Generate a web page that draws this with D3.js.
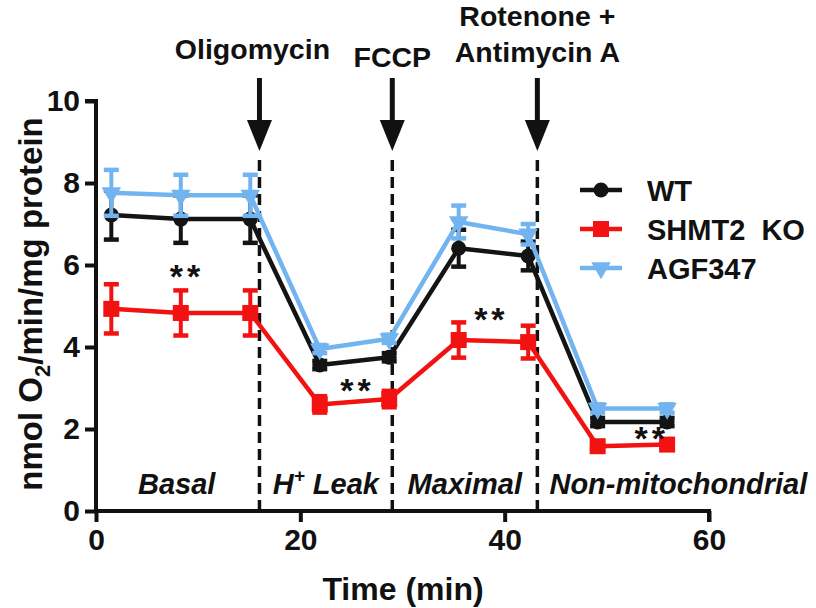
<!DOCTYPE html>
<html><head><meta charset="utf-8">
<script src="https://cdn.jsdelivr.net/npm/d3@7"></script>
<style>
html,body{margin:0;padding:0;background:#fff;}
svg text{font-family:"Liberation Sans",Arial,Helvetica,sans-serif;font-weight:bold;fill:#111;}
</style></head>
<body><svg id="c" width="816" height="608"></svg>
<script>
const times = [1.5, 8.3, 15.1, 21.9, 28.7, 35.5, 42.3, 49.1, 55.9];
const wtValues = [7.22, 7.12, 7.12, 3.56, 3.75, 6.41, 6.22, 2.17, 2.17];
const wtErrors = [0.6, 0.58, 0.58, 0.1, 0.1, 0.45, 0.35, 0.1, 0.1];
const koValues = [4.93, 4.83, 4.83, 2.6, 2.73, 4.17, 4.12, 1.58, 1.62];
const koErrors = [0.6, 0.55, 0.55, 0.2, 0.2, 0.43, 0.4, 0.08, 0.08];
const agValues = [7.76, 7.7, 7.7, 3.95, 4.2, 7.05, 6.75, 2.5, 2.5];
const agErrors = [0.56, 0.5, 0.5, 0.1, 0.1, 0.4, 0.25, 0.1, 0.1];
const seriesNames = ["WT", "SHMT2  KO", "AGF347"];
const xTicks = [0, 20, 40, 60];
const yTicks = [0, 2, 4, 6, 8, 10];
const injectionTimes = [16, 29, 43.2];
const injectionLabels = [["Oligomycin"], ["FCCP"], ["Rotenone +", "Antimycin A"]];
const phaseLabels = ["Basal", "H+ Leak", "Maximal", "Non-mitochondrial"];
const phaseCenters = [7.9, 22.5, 36.1, 57.0];
const starTimes = [8.9, 25.6, 38.7, 54.4];
const starValues = [5.45, 2.65, 4.38, 1.5];

const svg = d3.select("#c");
const x = d3.scaleLinear().domain([0, 60]).range([96, 709]);
const y = d3.scaleLinear().domain([0, 10]).range([511, 101]);

const colors = ["#141414", "#f21212", "#72b4f0"];
const series = [
  {name: seriesNames[0], v: wtValues, e: wtErrors, c: colors[0], sym: "circle"},
  {name: seriesNames[1], v: koValues, e: koErrors, c: colors[1], sym: "square"},
  {name: seriesNames[2], v: agValues, e: agErrors, c: colors[2], sym: "tri"}
];

// dashed injection lines
svg.selectAll("line.inj").data(injectionTimes).join("line")
  .attr("x1", d => x(d)).attr("x2", d => x(d))
  .attr("y1", 160).attr("y2", y(0))
  .attr("stroke", "#111").attr("stroke-width", 3.5)
  .attr("stroke-dasharray", "11,6");

// arrows
injectionTimes.forEach(t => {
  const cx = x(t);
  svg.append("line").attr("x1", cx).attr("x2", cx).attr("y1", 78).attr("y2", 124)
    .attr("stroke", "#111").attr("stroke-width", 5);
  svg.append("path").attr("d", `M${cx-12.5},120 L${cx+12.5},120 L${cx},151 Z`).attr("fill", "#111");
});

// injection labels
injectionLabels.forEach((lines, i) => {
  const cx = x(injectionTimes[i]);
  const baselines = lines.length === 2 ? [26, 62] : (i === 0 ? [59] : [67]);
  lines.forEach((l, j) => {
    svg.append("text").attr("x", cx + (i === 0 ? -7 : 0)).attr("y", baselines[j])
      .attr("text-anchor", "middle").attr("font-size", 28.5).text(l);
  });
});

// axes
const yAxis = d3.axisLeft(y).tickValues(yTicks).tickSize(11).tickPadding(5);
const gy = svg.append("g").attr("transform", `translate(${x(0)},0)`).call(yAxis);
gy.select(".domain").attr("stroke", "#111").attr("stroke-width", 4).attr("d", `M-11,${y(10)}H0V${y(0)}`);
gy.selectAll(".tick line").attr("stroke", "#111").attr("stroke-width", 4);
gy.selectAll(".tick text").attr("font-size", 30).attr("font-family", "Liberation Sans, Arial").attr("font-weight", "bold").attr("fill", "#111");

const xAxis = d3.axisBottom(x).tickValues(xTicks).tickSize(11).tickPadding(7);
const gx = svg.append("g").attr("transform", `translate(0,${y(0)})`).call(xAxis);
gx.select(".domain").attr("stroke", "#111").attr("stroke-width", 4).attr("d", `M${x(0)},0H${x(60)}V11`);
gx.selectAll(".tick line").attr("stroke", "#111").attr("stroke-width", 4);
gx.selectAll(".tick text").attr("font-size", 30).attr("font-family", "Liberation Sans, Arial").attr("font-weight", "bold").attr("fill", "#111");

// axis titles
svg.append("text").attr("x", 403).attr("y", 600).attr("text-anchor", "middle")
  .attr("font-size", 32).text("Time (min)");
const yl = svg.append("text").attr("transform", `translate(42,304) rotate(-90)`)
  .attr("text-anchor", "middle").attr("font-size", 33);
yl.append("tspan").text("nmol O");
yl.append("tspan").attr("font-size", 22).attr("dy", 8).text("2");
yl.append("tspan").attr("dy", -8).text("/min/mg protein");

// phase labels
phaseLabels.forEach((p, i) => {
  const t = svg.append("text").attr("x", x(phaseCenters[i])).attr("y", 494)
    .attr("text-anchor", "middle").attr("font-size", 29).attr("font-style", "italic");
  if (p.startsWith("H+")) {
    t.append("tspan").text("H");
    t.append("tspan").attr("font-size", 19).attr("dy", -12).text("+");
    t.append("tspan").attr("dy", 12).text(" Leak");
  } else t.text(p);
});

// series
const line = d3.line().x((d, i) => x(times[i])).y(d => y(d));
function marker(g, s, cx, cy) {
  if (s.sym === "circle") g.append("circle").attr("cx", cx).attr("cy", cy).attr("r", 7.5).attr("fill", s.c);
  else if (s.sym === "square") g.append("rect").attr("x", cx - 8).attr("y", cy - 8)
    .attr("width", 16).attr("height", 16).attr("fill", s.c);
  else g.append("path").attr("d", d3.symbol(d3.symbolTriangle, 165)())
    .attr("transform", `translate(${cx},${cy}) rotate(180)`).attr("fill", s.c);
}
series.forEach(s => {
  const g = svg.append("g");
  g.append("path").datum(s.v).attr("d", line).attr("fill", "none")
    .attr("stroke", s.c).attr("stroke-width", 4.5).attr("stroke-linejoin", "round");
  s.v.forEach((v, i) => {
    const cx = x(times[i]);
    const top = y(v + s.e[i]), bot = y(v - s.e[i]);
    g.append("line").attr("x1", cx).attr("x2", cx).attr("y1", top).attr("y2", bot)
      .attr("stroke", s.c).attr("stroke-width", 4);
    [top, bot].forEach(yy => g.append("line").attr("x1", cx - 7.5).attr("x2", cx + 7.5)
      .attr("y1", yy).attr("y2", yy).attr("stroke", s.c).attr("stroke-width", 4.5));
    marker(g, s, cx, y(v));
  });
});

// significance stars
starTimes.forEach((t, i) => {
  svg.append("text").attr("x", x(t)).attr("y", y(starValues[i])).attr("text-anchor", "middle")
    .attr("font-size", 34).attr("letter-spacing", 4).text("**");
});

// legend
series.forEach((s, i) => {
  const ly = 190 + i * 39;
  const g = svg.append("g");
  g.append("line").attr("x1", 580).attr("x2", 622).attr("y1", ly).attr("y2", ly)
    .attr("stroke", s.c).attr("stroke-width", 4.5);
  marker(g, s, 601, ly);
  svg.append("text").attr("x", 647).attr("y", ly + 11).attr("font-size", 29)
    .attr("xml:space", "preserve").style("white-space", "pre").text(s.name);
});
</script></body></html>
